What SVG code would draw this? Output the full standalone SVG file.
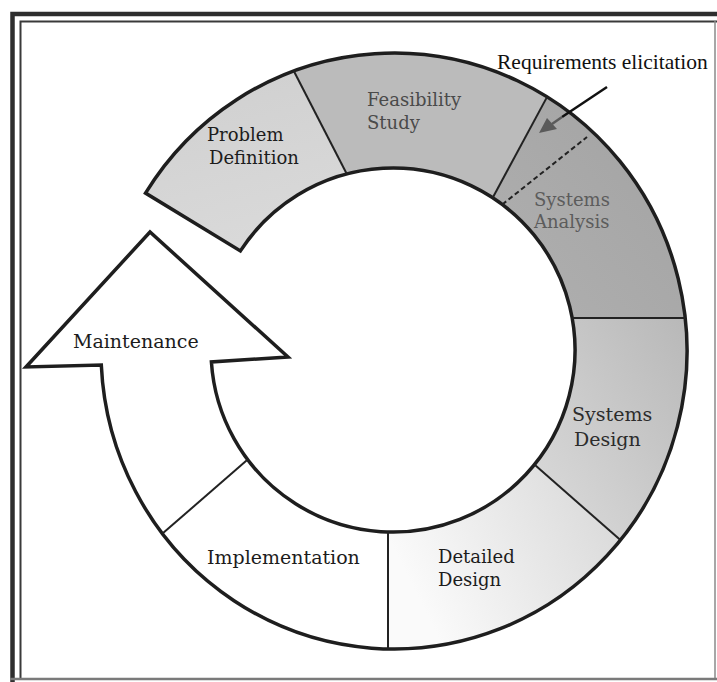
<svg xmlns="http://www.w3.org/2000/svg" width="717" height="682" viewBox="0 0 717 682">
  <style>
    .lbl { font-family: "DejaVu Serif", "Liberation Serif", serif; font-size: 18px; fill: #1c1c1c; }
    .big { font-size: 19px; }
    .note { font-family: "Liberation Serif", "Times New Roman", serif; font-size: 21.5px; fill: #111; }
    .seg { stroke: none; }
    .outline { fill: none; stroke: #1e1e1e; stroke-width: 3.5; stroke-linejoin: miter; }
    .divider { fill: none; stroke: #222; stroke-width: 2; }
  </style>
  <defs>
    <linearGradient id="gDesign" x1="1" y1="0" x2="0" y2="1">
      <stop offset="0" stop-color="#b8b8b8"/>
      <stop offset="1" stop-color="#dcdcdc"/>
    </linearGradient>
    <linearGradient id="gDetailed" x1="1" y1="0" x2="0" y2="0.4">
      <stop offset="0" stop-color="#d6d6d6"/>
      <stop offset="1" stop-color="#fafafa"/>
    </linearGradient>
    <linearGradient id="gAnalysis" x1="1" y1="0" x2="0" y2="1">
      <stop offset="0" stop-color="#a2a2a2"/>
      <stop offset="1" stop-color="#b0b0b0"/>
    </linearGradient>
    <linearGradient id="gProblem" x1="0" y1="0" x2="0.3" y2="1">
      <stop offset="0" stop-color="#cfcfcf"/>
      <stop offset="1" stop-color="#d9d9d9"/>
    </linearGradient>
  </defs>

  <!-- page frame -->
  <g id="frame" fill="none">
    <rect x="0" y="0" width="717" height="682" fill="#fff"/>
    <path d="M12.5 682 V14 H717" stroke="#2e2e2e" stroke-width="4.5"/>
    <path d="M20.5 680 V21.5 H717" stroke="#3a3a3a" stroke-width="2"/>
    <path d="M715 21 V680" stroke="#8a8a8a" stroke-width="1.5"/>
    <path d="M10 679 H717" stroke="#7a7a7a" stroke-width="2.5"/>
  </g>

  <!-- ring segments -->
  <g id="problem-definition">
    <path class="seg" fill="url(#gProblem)" d="M145.5 193.1 A293 298 0 0 1 293.8 71.0 L346.8 174.0 A182 182 0 0 0 240.4 250.9 Z"/>
    <text class="lbl" x="207" y="141">Problem</text>
    <text class="lbl" x="209" y="164">Definition</text>
  </g>
  <g id="feasibility-study">
    <path class="seg" fill="#bbbbbb" d="M293.8 71.0 A293 298 0 0 1 547.1 96.9 L492.7 197.7 A182 182 0 0 0 346.8 174.0 Z"/>
    <text class="lbl" x="367" y="106" style="fill:#4a4a4a">Feasibility</text>
    <text class="lbl" x="367" y="129" style="fill:#4a4a4a">Study</text>
  </g>
  <g id="systems-analysis">
    <path class="seg" fill="url(#gAnalysis)" d="M547.1 96.9 A293 298 0 0 1 685.2 318 L572.2 318 A182 182 0 0 0 492.7 197.7 Z"/>
    <text class="lbl" x="534" y="206" style="fill:#5c5c5c">Systems</text>
    <text class="lbl" x="534" y="228" style="fill:#5c5c5c">Analysis</text>
  </g>
  <g id="systems-design">
    <path class="seg" fill="url(#gDesign)" d="M685.2 318 A293 298 0 0 1 620.4 540.1 L534.4 464.5 A182 182 0 0 0 572.2 318 Z"/>
    <text class="lbl big" x="572" y="421" style="fill:#2c2c2c">Systems</text>
    <text class="lbl big" x="574" y="446" style="fill:#2c2c2c">Design</text>
  </g>
  <g id="detailed-design">
    <path class="seg" fill="url(#gDetailed)" d="M620.4 540.1 A293 298 0 0 1 388 648.9 L388 531.9 A182 182 0 0 0 534.4 464.5 Z"/>
    <text class="lbl" x="438" y="563">Detailed</text>
    <text class="lbl" x="438" y="586">Design</text>
  </g>
  <g id="implementation">
    <path class="seg" fill="#fff" d="M388 648.9 A293 298 0 0 1 162.5 533.6 L247.7 459.5 A182 182 0 0 0 388 531.9 Z"/>
    <text class="lbl big" x="207" y="564">Implementation</text>
  </g>
  <g id="maintenance">
    <path class="seg" fill="#fff" d="M162.5 533.6 A293 298 0 0 1 101.3 365 L26 367 L150 232 L288 357 L211.4 362 A182 182 0 0 0 247.7 459.5 Z"/>
    <text class="lbl big" x="73" y="348">Maintenance</text>
  </g>

  <!-- ring outline and stage dividers -->
  <g id="connectors">
    <path class="outline" d="M145.5 193.1 A293 298 0 1 1 101.3 365 L26 367 L150 232 L288 357 L211.4 362 A182 182 0 1 0 240.4 250.9 Z"/>
    <line class="divider" x1="293.8" y1="71.0" x2="346.8" y2="174.0"/>
    <line class="divider" x1="547.1" y1="96.9" x2="492.7" y2="197.7" stroke-width="1.6"/>
    <line class="divider" x1="502.3" y1="204.5" x2="587" y2="137" stroke-dasharray="5 3" stroke-width="2"/>
    <line class="divider" x1="572.2" y1="318" x2="685.2" y2="318" stroke-width="2.5"/>
    <line class="divider" x1="534.4" y1="464.5" x2="620.4" y2="540.1"/>
    <line class="divider" x1="388" y1="531.9" x2="388" y2="648.9"/>
    <line class="divider" x1="247.7" y1="459.5" x2="162.5" y2="533.6"/>

    <!-- pointer for the elicitation note -->
    <line x1="607" y1="87" x2="562" y2="117" stroke="#111" stroke-width="2.5"/>
    <line x1="562" y1="117" x2="552" y2="124" stroke="#5a5a5a" stroke-width="2.5"/>
    <polygon points="539,133 547,118 557,129" fill="#5a5a5a"/>
  </g>

  <g id="requirements-elicitation">
    <text class="note" x="497" y="69">Requirements elicitation</text>
  </g>
</svg>
